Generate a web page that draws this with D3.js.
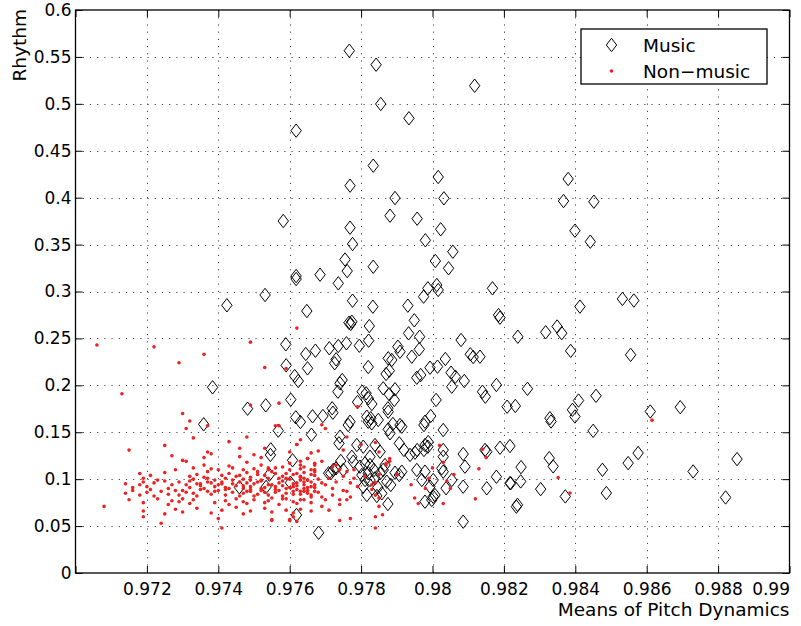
<!DOCTYPE html>
<html>
<head>
<meta charset="utf-8">
<script src="https://cdn.jsdelivr.net/npm/d3@7"></script>
<style>
  body { margin: 0; background: #fff; }
  text { font-family: "DejaVu Sans", sans-serif; fill: #000; }
</style>
</head>
<body>
<svg id="chart" width="801" height="626"></svg>
<script>
// Axis ticks and labels
const xTickValues = [0.970, 0.972, 0.974, 0.976, 0.978, 0.980, 0.982, 0.984, 0.986, 0.988, 0.990];
const xTickLabels = ["", "0.972", "0.974", "0.976", "0.978", "0.98", "0.982", "0.984", "0.986", "0.988", "0.99"];
const yTickValues = [0, 0.05, 0.1, 0.15, 0.2, 0.25, 0.3, 0.35, 0.4, 0.45, 0.5, 0.55, 0.6];
const yTickLabels = ["0", "0.05", "0.1", "0.15", "0.2", "0.25", "0.3", "0.35", "0.4", "0.45", "0.5", "0.55", "0.6"];
const seriesNames = ["Music", "Non\u2212music"];
const xTitle = "Means of Pitch Dynamics";
const yTitle = "Rhythm";

// Music clips: [mean of pitch dynamics, rhythm]
const music = [
  [0.97767,0.5566],[0.97842,0.5417],[0.98118,0.5193],[0.97855,0.4998],[0.97934,0.4846],[0.97618,0.4714],
  [0.97834,0.4341],[0.98016,0.4220],[0.97769,0.4128],[0.98380,0.4199],[0.97895,0.3996],[0.98032,0.3993],
  [0.98367,0.3964],[0.98452,0.3957],[0.97881,0.3808],[0.97957,0.3776],[0.97769,0.3680],[0.98399,0.3648],
  [0.98023,0.3663],[0.97582,0.3751],[0.97776,0.3506],[0.97980,0.3546],[0.98442,0.3531],[0.98057,0.3424],
  [0.97755,0.3341],[0.98008,0.3325],[0.97834,0.3264],[0.97761,0.3218],[0.97685,0.3179],[0.97618,0.3165],
  [0.97618,0.3133],[0.98045,0.3247],[0.97736,0.3087],[0.97531,0.2963],[0.97424,0.2853],[0.97648,0.2792],
  [0.97987,0.3034],[0.98012,0.3069],[0.98016,0.3016],[0.97975,0.2945],[0.97931,0.2849],[0.98168,0.3034],
  [0.97776,0.2902],[0.97833,0.2838],[0.97949,0.2693],[0.98185,0.2749],[0.98189,0.2721],[0.97766,0.2667],
  [0.97774,0.2678],[0.97771,0.2654],[0.97823,0.2632],[0.97933,0.2554],[0.97964,0.2518],[0.98080,0.2483],
  [0.98239,0.2518],[0.97589,0.2437],[0.97645,0.2334],[0.97672,0.2369],[0.97590,0.2213],[0.97650,0.2181],
  [0.97614,0.2099],[0.97624,0.2046],[0.97384,0.1979],[0.97482,0.1751],[0.97533,0.1787],[0.97603,0.1847],
  [0.97617,0.1659],[0.97630,0.1609],[0.97664,0.1670],[0.97359,0.1585],[0.97568,0.1517],[0.97661,0.1474],
  [0.97547,0.1318],[0.97546,0.1258],[0.97608,0.1201],[0.97543,0.1048],[0.97459,0.0913],[0.97534,0.0917],
  [0.97602,0.0962],[0.97619,0.0618],
  [0.97711,0.2395],[0.97736,0.2419],[0.97759,0.2448],[0.97795,0.2422],[0.97821,0.2476],[0.97730,0.2277],
  [0.97726,0.2235],[0.97820,0.2195],[0.97903,0.2412],[0.97909,0.2358],[0.97876,0.2288],[0.97886,0.2270],
  [0.97870,0.2121],[0.97879,0.2156],[0.97942,0.2305],[0.97963,0.2384],[0.97993,0.2188],[0.98014,0.2199],
  [0.98036,0.2281],[0.97956,0.2081],[0.97967,0.2110],[0.98052,0.2135],[0.98064,0.2092],[0.98089,0.2046],
  [0.98106,0.2331],[0.98114,0.2302],[0.98133,0.2305],[0.98179,0.2004],[0.98140,0.1932],[0.98148,0.1879],
  [0.98054,0.1985],[0.98209,0.1772],[0.98232,0.1780],[0.97747,0.2057],[0.97741,0.2022],[0.97735,0.1932],
  [0.97719,0.1755],[0.97803,0.1932],[0.97814,0.1915],[0.97820,0.1862],[0.97790,0.1822],[0.97830,0.1801],
  [0.97862,0.1968],[0.97879,0.1904],[0.97895,0.1958],[0.97893,0.1844],[0.97875,0.1755],[0.98010,0.1844],
  [0.97693,0.1673],[0.97721,0.1708],[0.97769,0.1612],[0.97764,0.1577],[0.97876,0.1719],[0.97820,0.1612],
  [0.97827,0.1649],[0.97848,0.1631],[0.97889,0.1588],[0.97876,0.1531],[0.97881,0.1489],[0.97909,0.1577],
  [0.97976,0.1577],[0.97995,0.1673],[0.98030,0.1524],[0.97907,0.1382],[0.97920,0.1311],[0.97951,0.1282],
  [0.97957,0.1311],[0.97979,0.1364],[0.97987,0.1346],[0.97976,0.1311],[0.97937,0.1258],[0.98030,0.1311],
  [0.98030,0.1239],[0.98086,0.1268],[0.98091,0.1133],[0.98152,0.1293],[0.98147,0.1311],[0.98189,0.1335],
  [0.98217,0.1353],
  [0.97743,0.1194],[0.97722,0.1098],[0.97715,0.1063],[0.97730,0.1116],[0.97778,0.1186],[0.97797,0.1133],
  [0.97811,0.1169],[0.97825,0.1151],[0.97836,0.1098],[0.97820,0.1063],[0.97802,0.1044],[0.97811,0.0991],
  [0.97839,0.1009],[0.97853,0.1063],[0.97862,0.1098],[0.97847,0.0913],[0.97858,0.0849],[0.97844,0.0821],
  [0.97875,0.0735],[0.97883,0.0938],[0.97872,0.0973],[0.97895,0.1069],[0.97907,0.1044],[0.97956,0.1098],
  [0.97979,0.1080],[0.98002,0.0991],[0.98002,0.0813],[0.97998,0.0778],[0.97979,0.0760],[0.98026,0.1116],
  [0.98030,0.1080],[0.98054,0.0991],[0.98038,0.0903],[0.98086,0.0920],[0.98179,0.1026],[0.98219,0.0956],
  [0.98235,0.0707],[0.98086,0.0547],[0.97681,0.0429],
  [0.97738,0.1382],[0.97750,0.1098],[0.97709,0.1063],[0.97774,0.1239],[0.97788,0.1364],[0.97741,0.1453],
  [0.97816,0.1666],[0.97830,0.1595],[0.97914,0.1559],[0.97979,0.1612],[0.97988,0.1396],[0.97806,0.1346],
  [0.97825,0.1239],[0.97839,0.1364],[0.97853,0.1293],[0.97825,0.0991],[0.97867,0.1151],[0.97914,0.1080],
  [0.97806,0.0920],[0.97816,0.0831],[0.97970,0.0991],[0.97993,0.0920],[0.98007,0.0831],[0.98152,0.0903],
  [0.98532,0.2921],[0.98564,0.2904],[0.98413,0.2839],[0.98317,0.2566],[0.98349,0.2627],[0.98362,0.2556],
  [0.98387,0.2367],[0.98555,0.2325],[0.98266,0.1963],[0.98329,0.1650],[0.98332,0.1615],[0.98392,0.1739],
  [0.98399,0.1668],[0.98409,0.1838],[0.98458,0.1888],[0.98450,0.1515],[0.98610,0.1721],[0.98694,0.1767],
  [0.98327,0.1224],[0.98338,0.1136],[0.98248,0.1128],[0.98247,0.0976],[0.98217,0.0958],[0.98303,0.0894],
  [0.98238,0.0727],[0.98372,0.0816],[0.98476,0.1100],[0.98487,0.0852],[0.98548,0.1171],[0.98576,0.1278],
  [0.98730,0.1082],[0.98853,0.1214],[0.98821,0.0805]
];

// Non-music clips: [mean of pitch dynamics, rhythm]
const nonMusic = [
  // scattered upper points
  [0.9706,0.243],[0.9722,0.241],[0.9736,0.233],[0.9729,0.224],[0.9749,0.246],[0.9762,0.261],[0.9753,0.219],
  [0.9759,0.218],[0.9713,0.191],[0.9749,0.179],[0.9757,0.181],[0.9730,0.170],[0.9732,0.162],[0.9731,0.154],
  [0.9737,0.157],[0.9733,0.144],[0.9757,0.157],[0.9715,0.131],[0.9725,0.136],[0.9743,0.140],[0.9748,0.145],
  [0.9762,0.137],[0.9763,0.142],[0.9727,0.125],[0.9737,0.129],[0.9738,0.127],[0.9746,0.133],[0.9753,0.133],
  [0.9736,0.123],[0.9730,0.120],[0.9731,0.119],[0.9746,0.124],[0.9750,0.126],[0.9752,0.123],[0.9765,0.122],
  [0.9736,0.115],[0.9733,0.112],[0.9738,0.111],[0.9728,0.110],[0.9743,0.114],[0.9748,0.118],[0.9752,0.115],
  [0.9754,0.112],[0.9758,0.113],[0.9760,0.117],[0.9763,0.115],[0.9767,0.115],
  // main band, left part
  [0.9718,0.106],[0.9719,0.101],[0.9721,0.104],[0.9723,0.099],[0.9725,0.107],[0.9732,0.103],[0.9733,0.100],
  [0.9734,0.105],[0.9736,0.102],[0.9737,0.108],[0.9739,0.099],[0.9741,0.104],[0.9742,0.101],[0.9743,0.106],
  [0.9745,0.103],[0.9747,0.100],[0.9748,0.107],[0.9749,0.102],[0.9751,0.105],[0.9752,0.099],[0.9753,0.104],
  [0.9755,0.108],[0.9757,0.101],[0.9758,0.103],[0.9759,0.106],[0.9760,0.100],[0.9761,0.105],[0.9763,0.102],
  [0.9764,0.107],[0.9765,0.099],[0.9767,0.104],
  [0.9714,0.095],[0.9716,0.091],[0.9718,0.094],[0.9719,0.097],[0.9720,0.092],[0.9722,0.096],[0.9726,0.090],
  [0.9727,0.094],[0.9729,0.097],[0.9732,0.091],[0.9734,0.095],[0.9735,0.093],[0.9736,0.090],[0.9738,0.096],
  [0.9739,0.092],[0.9740,0.094],[0.9741,0.097],[0.9742,0.091],[0.9744,0.095],[0.9745,0.093],[0.9747,0.090],
  [0.9748,0.096],[0.9749,0.092],[0.9750,0.095],[0.9751,0.097],[0.9753,0.091],[0.9754,0.094],[0.9756,0.092],
  [0.9757,0.096],[0.9759,0.090],[0.9761,0.095],[0.9762,0.093],[0.9764,0.097],[0.9765,0.091],[0.9767,0.094],
  [0.9714,0.085],[0.9716,0.088],[0.9718,0.083],[0.9720,0.086],[0.9722,0.082],[0.9724,0.087],[0.9726,0.084],
  [0.9728,0.088],[0.9729,0.083],[0.9731,0.086],[0.9733,0.085],[0.9734,0.082],[0.9737,0.087],[0.9738,0.084],
  [0.9740,0.088],[0.9742,0.083],[0.9744,0.086],[0.9746,0.082],[0.9747,0.085],[0.9749,0.087],[0.9751,0.084],
  [0.9752,0.088],[0.9754,0.083],[0.9756,0.086],[0.9758,0.082],[0.9759,0.085],[0.9761,0.087],[0.9763,0.084],
  [0.9765,0.088],[0.9766,0.083],
  [0.9715,0.078],[0.9719,0.075],[0.9723,0.079],[0.9726,0.073],[0.9727,0.077],[0.9729,0.076],[0.9730,0.079],
  [0.9732,0.074],[0.9733,0.078],[0.9739,0.075],[0.9742,0.077],[0.9743,0.073],[0.9745,0.079],[0.9747,0.076],
  [0.9748,0.074],[0.9750,0.078],[0.9753,0.075],[0.9754,0.077],[0.9757,0.073],[0.9759,0.079],[0.9761,0.076],
  [0.9762,0.074],[0.9764,0.078],[0.9766,0.075],
  [0.9708,0.071],[0.9719,0.066],[0.9725,0.063],[0.9728,0.068],[0.9730,0.065],[0.9734,0.069],[0.9738,0.064],
  [0.9741,0.067],[0.9745,0.070],[0.9747,0.063],[0.9749,0.066],[0.9753,0.069],[0.9755,0.065],[0.9759,0.067],
  [0.9761,0.064],[0.9763,0.068],[0.9766,0.066],
  [0.9719,0.060],[0.9724,0.053],[0.9741,0.048],[0.9755,0.056],[0.9760,0.056],[0.9740,0.058],
  [0.9740,0.110],[0.9742,0.089],[0.9744,0.112],[0.9746,0.097],[0.9747,0.110],[0.9749,0.089],[0.9750,0.111],
  [0.9752,0.098],[0.9754,0.110],[0.9756,0.089],[0.9756,0.112],[0.9758,0.098],[0.9760,0.110],[0.9762,0.089],
  [0.9763,0.111],[0.9766,0.097],[0.9767,0.110],[0.9721,0.089],[0.9725,0.098],[0.9730,0.088],[0.9732,0.098],
  [0.9735,0.089],[0.9737,0.097],
  [0.9756,0.157],[0.9762,0.137],[0.9763,0.099],[0.9761,0.092],[0.9763,0.087],[0.9761,0.060],[0.9760,0.057],
  [0.9762,0.055],[0.9755,0.057],[0.9760,0.129],
  // densest stretch of the band
  [0.9746,0.104],[0.9747,0.093],[0.9748,0.087],[0.9749,0.099],[0.9750,0.082],[0.9751,0.108],[0.9752,0.090],
  [0.9753,0.086],[0.9754,0.101],[0.9755,0.094],[0.9755,0.080],[0.9756,0.106],[0.9757,0.088],[0.9758,0.093],
  [0.9758,0.079],[0.9759,0.101],[0.9760,0.091],[0.9761,0.084],[0.9762,0.106],[0.9762,0.096],[0.9764,0.090],
  [0.9764,0.101],[0.9765,0.085],[0.9766,0.105],[0.9767,0.091],[0.9768,0.100],[0.9768,0.086],[0.9770,0.094],
  [0.9771,0.101],[0.9772,0.090],[0.9773,0.097],[0.9775,0.088],[0.9775,0.103],[0.9744,0.099],[0.9743,0.090],
  [0.9741,0.095],[0.9739,0.087],[0.9737,0.101],[0.9735,0.095],[0.9731,0.094],
  // main band, right part
  [0.9779,0.177],[0.9769,0.158],[0.9770,0.154],[0.9776,0.145],[0.9780,0.137],[0.9784,0.139],[0.9775,0.131],
  [0.9785,0.129],[0.9768,0.130],[0.9766,0.128],[0.9765,0.122],[0.9763,0.119],[0.9767,0.117],[0.9769,0.119],
  [0.9764,0.113],[0.9766,0.110],[0.9767,0.108],[0.9763,0.103],[0.9765,0.099],[0.9764,0.094],[0.9766,0.092],
  [0.9769,0.096],[0.9767,0.087],[0.9764,0.087],[0.9766,0.081],[0.9763,0.078],[0.9769,0.081],[0.9770,0.078],
  [0.9772,0.083],[0.9774,0.078],[0.9774,0.073],[0.9776,0.087],[0.9777,0.081],[0.9776,0.078],[0.9771,0.067],
  [0.9769,0.071],[0.9772,0.113],[0.9773,0.115],[0.9774,0.110],[0.9776,0.108],[0.9778,0.110],[0.9778,0.101],
  [0.9777,0.096],[0.9779,0.092],[0.9781,0.103],[0.9783,0.094],[0.9784,0.096],[0.9785,0.105],[0.9787,0.115],
  [0.9788,0.119],[0.9788,0.122],[0.9787,0.117],[0.9783,0.089],[0.9784,0.083],[0.9785,0.080],[0.9785,0.071],
  [0.9786,0.062],[0.9784,0.060],[0.9774,0.056],[0.9777,0.058],[0.9784,0.048],[0.9790,0.105],[0.9794,0.094],
  [0.9795,0.080],[0.9796,0.074],[0.9798,0.090],[0.9799,0.101],[0.9800,0.112],[0.9802,0.136],[0.9803,0.118],
  [0.9804,0.098],[0.9805,0.090],[0.9806,0.105],[0.9803,0.074],[0.9812,0.079],[0.9813,0.111],[0.9814,0.132],
  [0.9815,0.123],[0.98615,0.1629],[0.98352,0.1018],[0.98385,0.0852]
];

// Layout
const plot = { left: 75.5, right: 789.5, top: 10, bottom: 573 };
const tickLen = 7;
const tickFont = "17px";
const titleFont = "18.5px";

const svg = d3.select("#chart");
const x = d3.scaleLinear().domain([0.970, 0.990]).range([plot.left, plot.right]);
const y = d3.scaleLinear().domain([0, 0.6]).range([plot.bottom, plot.top]);

// Dotted grid
const grid = svg.append("g").attr("stroke", "#444").attr("stroke-width", 1)
  .attr("stroke-dasharray", "1.2,6");
grid.selectAll("line.gx")
  .data(xTickValues.filter(v => v > 0.9701 && v < 0.9899))
  .join("line").attr("class", "gx")
  .attr("x1", d => Math.round(x(d)) + 0.5).attr("x2", d => Math.round(x(d)) + 0.5)
  .attr("y1", plot.top).attr("y2", plot.bottom);
grid.selectAll("line.gy")
  .data(yTickValues.filter(v => v > 0.0001 && v < 0.5999))
  .join("line").attr("class", "gy")
  .attr("x1", plot.left).attr("x2", plot.right)
  .attr("y1", d => Math.round(y(d)) + 0.5).attr("y2", d => Math.round(y(d)) + 0.5);

// Axes with inward ticks
const fmtX = (d, i) => xTickLabels[i];
const fmtY = (d, i) => yTickLabels[i];
const styleAxis = g => {
  g.select(".domain").remove();
  g.selectAll(".tick line").attr("stroke", "#000").attr("stroke-width", 1);
  g.selectAll(".tick text").style("font-size", tickFont).attr("fill", "#000");
};

const xAxisG = svg.append("g").attr("transform", `translate(0,${plot.bottom})`)
  .call(d3.axisBottom(x).tickValues(xTickValues).tickFormat(fmtX)
    .tickSizeInner(-tickLen).tickSizeOuter(0).tickPadding(10))
  .call(styleAxis);
// keep the right-most label inside the figure
xAxisG.selectAll(".tick text").filter((d, i, n) => i === n.length - 1)
  .attr("text-anchor", "end");

svg.append("g").attr("transform", `translate(0,${plot.top})`)
  .call(d3.axisTop(x).tickValues(xTickValues).tickFormat("")
    .tickSizeInner(-tickLen).tickSizeOuter(0))
  .call(styleAxis);
svg.append("g").attr("transform", `translate(${plot.left},0)`)
  .call(d3.axisLeft(y).tickValues(yTickValues).tickFormat(fmtY)
    .tickSizeInner(-tickLen).tickSizeOuter(0).tickPadding(4))
  .call(styleAxis);
svg.append("g").attr("transform", `translate(${plot.right},0)`)
  .call(d3.axisRight(y).tickValues(yTickValues).tickFormat("")
    .tickSizeInner(-tickLen).tickSizeOuter(0))
  .call(styleAxis);

// Axes box
svg.append("rect")
  .attr("x", plot.left).attr("y", plot.top)
  .attr("width", plot.right - plot.left).attr("height", plot.bottom - plot.top)
  .attr("fill", "none").attr("stroke", "#000").attr("stroke-width", 1.3);

// Markers
const diamond = "M0,-6.7L5.2,0L0,6.7L-5.2,0Z";
const redColor = "#ee2222";

svg.append("g").selectAll("path")
  .data(music).join("path")
  .attr("d", diamond)
  .attr("transform", d => `translate(${x(d[0])},${y(d[1])})`)
  .attr("fill", "none").attr("stroke", "#000").attr("stroke-width", 1);

svg.append("g").selectAll("circle")
  .data(nonMusic).join("circle")
  .attr("cx", d => x(d[0])).attr("cy", d => y(d[1]))
  .attr("r", 1.8).attr("fill", redColor);

// Axis titles
svg.append("text")
  .attr("x", plot.right).attr("y", 616)
  .attr("text-anchor", "end").style("font-size", titleFont)
  .text(xTitle);
svg.append("text")
  .attr("transform", `translate(25.5,${plot.top - 1}) rotate(-90)`)
  .attr("text-anchor", "end").style("font-size", titleFont)
  .text(yTitle);

// Legend
const legend = svg.append("g");
legend.append("rect")
  .attr("x", 581).attr("y", 29).attr("width", 186).attr("height", 55)
  .attr("fill", "#fff").attr("stroke", "#000").attr("stroke-width", 1.3);
legend.append("path").attr("d", diamond)
  .attr("transform", "translate(611.5,45)")
  .attr("fill", "none").attr("stroke", "#000").attr("stroke-width", 1);
legend.append("circle").attr("cx", 611.5).attr("cy", 71).attr("r", 1.8).attr("fill", redColor);
legend.selectAll("text.lab")
  .data(seriesNames).join("text").attr("class", "lab")
  .attr("x", 643).attr("y", (d, i) => 51.5 + i * 26.5)
  .style("font-size", titleFont)
  .text(d => d);
</script>
</body>
</html>
